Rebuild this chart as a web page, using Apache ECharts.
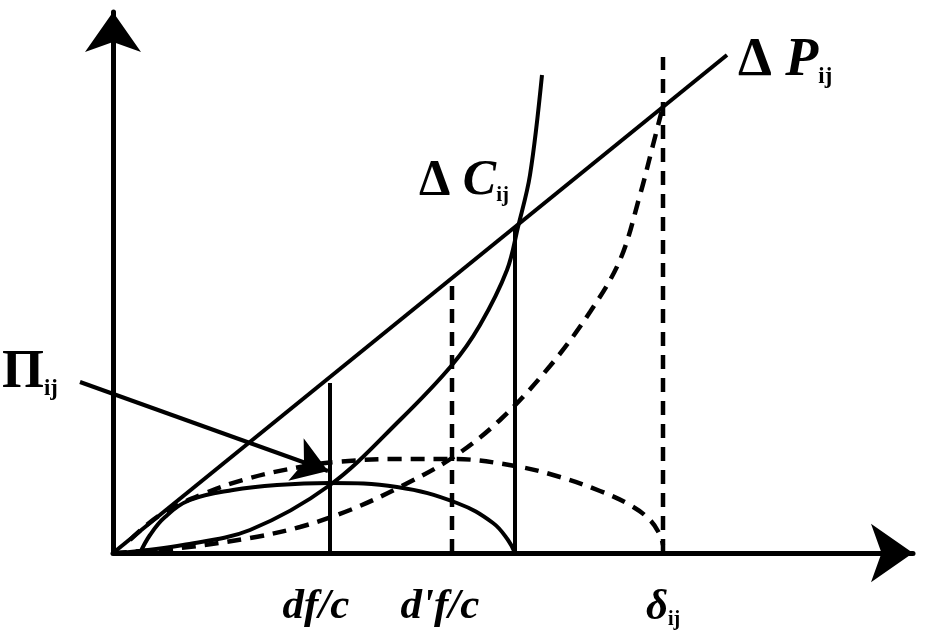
<!doctype html>
<html>
<head>
<meta charset="utf-8">
<script src="https://cdn.jsdelivr.net/npm/echarts@6/dist/echarts.min.js"></script>
</head>
<body style="margin:0;background:#fff">
<div id="main" style="width:931px;height:644px;"></div>
<script>
// points as [x, y], origin at the corner of the two axes
var priceLine = [[0, 0], [614, 498]];
var costSolid = [[7, 0], [70, 8], [137, 23], [217, 68], [287, 133], [339, 188], [367, 228], [394, 283],
    [405, 326], [417, 378], [429, 478]];
var costDashed = [[0, 0], [67, 5], [137, 15], [187, 26], [237, 43], [287, 66], [339, 95], [387, 133],
    [437, 187], [477, 241], [507, 293], [527, 358], [540, 408], [549, 443]];
var profitSolid = [[27, 0], [37, 18], [52, 36], [77, 53], [120, 63], [164, 68], [217, 70], [284, 66],
    [344, 50], [380, 30], [395, 13], [402, 0]];
var profitDashed = [[17, 13], [47, 38], [90, 59], [137, 75], [187, 86], [222, 91], [287, 94], [339, 94],
    [402, 87], [447, 76], [487, 62], [517, 48], [537, 33], [547, 18], [550, 8]];
var pointerLine = [[-33, 171], [215, 82]];

// vertical drop lines and their labels under the axis
var dropX = [217, 339, 402, 550];
var dropTop = [170, 268, 326, 496];
var dropDashed = [false, true, false, true];
var tickLabels = ['{m|df/c}', "{m|d'f/c}", '', '{m|\u03b4}{s|ij}'];

var myChart = echarts.init(document.getElementById('main'));

var black = '#000';
var solid = { color: black, width: 4 };
var dashed = { color: black, width: 4.5, type: [14, 9] };
var labelShift = [[-14, 4], [-12, 4], [0, 4], [0, 4]];

function curve(data, style, smooth) {
    return {
        type: 'line', data: data, symbol: 'none', smooth: smooth, clip: false,
        lineStyle: style, silent: true, animation: false
    };
}

var series = [
    curve(priceLine, solid, false),
    curve(costSolid, solid, 0.35),
    curve(costDashed, dashed, 0.35),
    curve(profitSolid, solid, 0.4),
    curve(profitDashed, dashed, 0.4)
];

for (var i = 0; i < dropX.length; i++) {
    series.push(curve([[dropX[i], 0], [dropX[i], dropTop[i]]], dropDashed[i] ? dashed : solid, false));
}

series.push({
    type: 'scatter',
    symbolSize: 1,
    itemStyle: { color: black, opacity: 1 },
    silent: true, animation: false,
    data: dropX.map(function (x, k) {
        return { value: [x, 0], name: tickLabels[k], label: { offset: labelShift[k] } };
    }),
    label: {
        show: true, position: 'bottom', distance: 28, color: black, opacity: 1,
        formatter: function (p) { return p.name; },
        rich: {
            m: { fontFamily: 'Liberation Serif', fontStyle: 'italic', fontWeight: 'bold', fontSize: 43, color: black },
            s: { fontFamily: 'Liberation Serif', fontWeight: 'bold', fontSize: 20, color: black, padding: [24, 0, 0, 0] }
        }
    }
});

series.push({
    type: 'lines',
    coordinateSystem: 'cartesian2d',
    clip: false, silent: true, animation: false,
    symbol: ['none', 'arrow'],
    symbolSize: 34,
    lineStyle: { color: black, width: 4, opacity: 1 },
    data: [{ coords: pointerLine }]
});

var txt = { fontFamily: 'Liberation Serif', fontWeight: 'bold', color: black };
function rich(size) {
    return {
        d: Object.assign({ fontSize: size }, txt),
        p: Object.assign({ fontSize: size, fontStyle: 'italic' }, txt),
        s: Object.assign({ fontSize: size * 0.42, padding: [size * 0.58, 0, 0, 0] }, txt)
    };
}

myChart.setOption({
    backgroundColor: '#fff',
    animation: false,
    grid: { left: 113, right: 18, top: 12, bottom: 91 },
    xAxis: {
        type: 'value', min: 0, max: 800,
        axisLine: { show: true, symbol: ['none', 'arrow'], symbolSize: [44, 42], lineStyle: { color: black, width: 5 } },
        axisTick: { show: false }, axisLabel: { show: false }, splitLine: { show: false }
    },
    yAxis: {
        type: 'value', min: 0, max: 541,
        axisLine: { show: true, symbol: ['none', 'arrow'], symbolSize: [42, 40], lineStyle: { color: black, width: 5 } },
        axisTick: { show: false }, axisLabel: { show: false }, splitLine: { show: false }
    },
    graphic: [
        { type: 'text', left: 738, top: 34, style: { text: '{d|\u0394 }{p|P}{s|ij}', rich: rich(54) } },
        { type: 'text', left: 419, top: 156, style: { text: '{d|\u0394 }{p|C}{s|ij}', rich: rich(50) } },
        { type: 'text', left: 2, top: 346, style: { text: '{d|\u03a0}{s|ij}', rich: rich(54) } }
    ],
    series: series
});
</script>
</body>
</html>
